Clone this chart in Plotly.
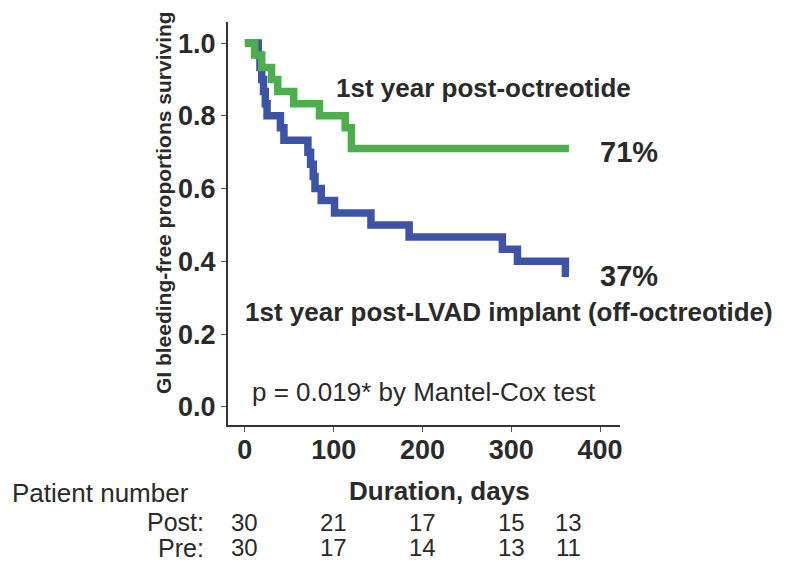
import plotly.graph_objects as go

# Kaplan-Meier step data (days, proportion surviving)
post_days = [0, 11, 19, 30, 37, 55, 84, 113, 120, 365]
post_surv = [1.0, 0.967, 0.933, 0.9, 0.867, 0.833, 0.8, 0.767, 0.71, 0.71]

pre_days = [0, 15, 17, 19, 21, 23, 25, 40, 44, 71, 74, 77, 79, 86, 101, 142, 185, 290, 307, 361, 365]
pre_surv = [1.0, 0.967, 0.933, 0.9, 0.867, 0.833, 0.8, 0.767, 0.733, 0.7, 0.667, 0.633, 0.6, 0.567,
            0.533, 0.5, 0.467, 0.433, 0.4, 0.367, 0.367]

# Patients at risk table
risk_days = [0, 100, 200, 300, 365]
risk_post = [30, 21, 17, 15, 13]
risk_pre = [30, 17, 14, 13, 11]

x_ticks = [0, 100, 200, 300, 400]
y_ticks = [0.0, 0.2, 0.4, 0.6, 0.8, 1.0]

GREEN = "#4cae4c"
BLUE = "#3d54a6"
TXT = "#2a2a2a"
FONT = "Liberation Sans, Arial, sans-serif"

fig = go.Figure()
fig.add_trace(go.Scatter(x=pre_days, y=pre_surv, mode="lines", line=dict(color=BLUE, width=7.5, shape="hv"),
                         showlegend=False, cliponaxis=False))
fig.add_trace(go.Scatter(x=post_days, y=post_surv, mode="lines", line=dict(color=GREEN, width=7.5, shape="hv"),
                         showlegend=False, cliponaxis=False))

ann = []
def A(text, x, y, xref="x", yref="y", xanchor="left", yanchor="middle", size=26, bold=False, angle=0):
    ann.append(dict(text=f"<b>{text}</b>" if bold else text, x=x, y=y, xref=xref, yref=yref,
                    xanchor=xanchor, yanchor=yanchor, showarrow=False, textangle=angle,
                    font=dict(family=FONT, size=size, color=TXT)))

A("1st year post-octreotide", 100, 0.877, bold=True)
A("71%", 398, 0.70, bold=True, size=29)
A("37%", 398, 0.36, bold=True, size=29)
A("1st year post-LVAD implant (off-octreotide)", -2, 0.262, bold=True)
A("p = 0.019* by Mantel-Cox test", 6, 0.041)
A("GI bleeding-free proportions surviving", -0.166, 0.553, xref="paper", yref="paper",
  xanchor="center", size=21, bold=True, angle=-90)
A("Duration, days", 219, -0.164, yref="paper", xanchor="center", bold=True)
A("Patient number", -0.556, -0.169, xref="paper", yref="paper")
A("Post:", -0.056, -0.241, xref="paper", yref="paper", xanchor="right", size=25)
A("Pre:", -0.056, -0.305, xref="paper", yref="paper", xanchor="right", size=25)
for d, p, q in zip(risk_days, risk_post, risk_pre):
    A(str(p), d, -0.241, yref="paper", xanchor="center", size=24)
    A(str(q), d, -0.305, yref="paper", xanchor="center", size=24)

fig.update_layout(
    width=800, height=577,
    margin=dict(l=220, r=188, t=14, b=160),
    paper_bgcolor="white", plot_bgcolor="white",
    annotations=ann,
    xaxis=dict(range=[-19, 422.5], tickvals=x_ticks, showline=True, linecolor="#333", linewidth=2,
               ticks="outside", ticklen=5, tickwidth=1, tickcolor="#555", showgrid=False, zeroline=False,
               tickfont=dict(family=FONT, size=27, color=TXT), ticklabelstandoff=-5),
    yaxis=dict(range=[-0.05, 1.058], tickvals=y_ticks, tickformat=".1f", showline=True, linecolor="#333",
               linewidth=2, ticks="outside", ticklen=5, tickwidth=1, tickcolor="#555", showgrid=False,
               zeroline=False, tickfont=dict(family=FONT, size=27, color=TXT)),
)
fig.update_xaxes(tickfont_weight="bold")
fig.update_yaxes(tickfont_weight="bold")

fig.write_html("out.html")
